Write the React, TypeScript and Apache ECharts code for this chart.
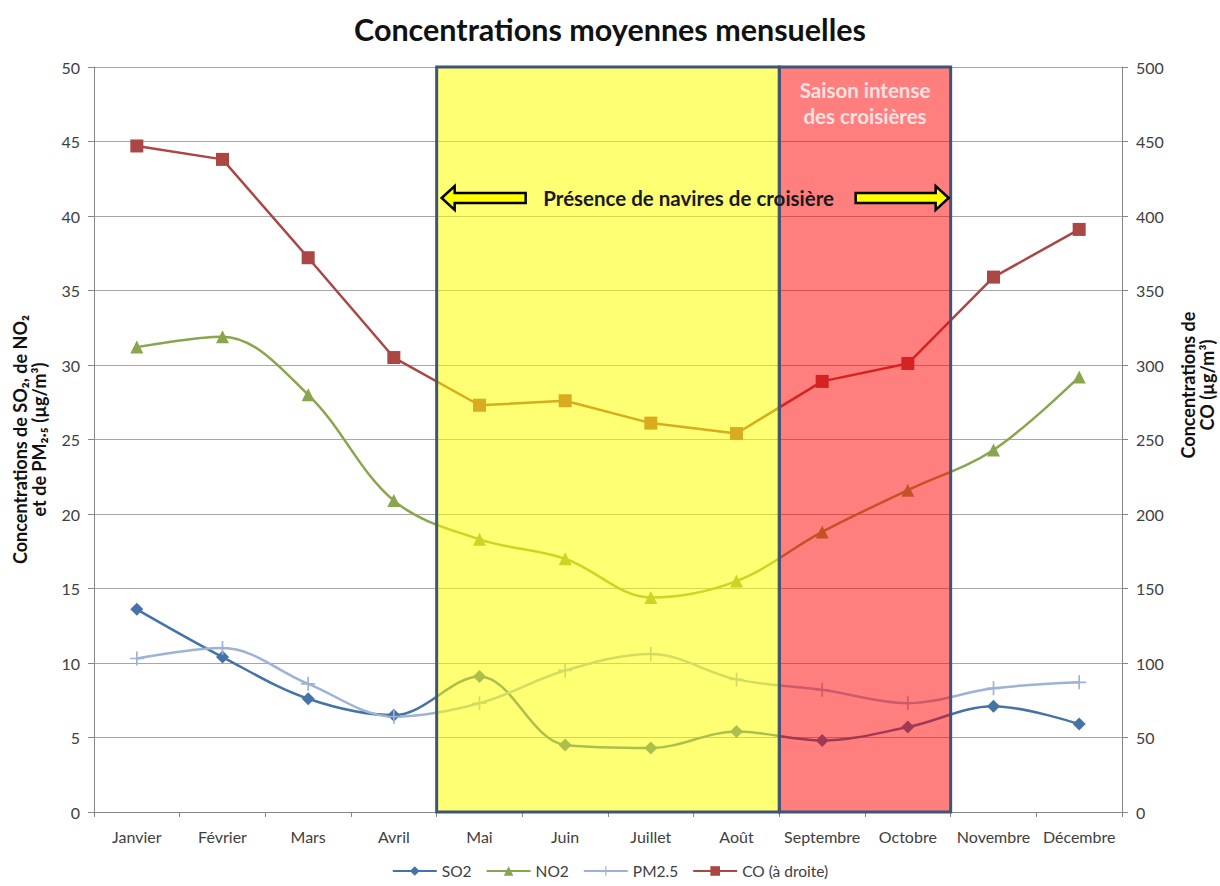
import React, { useEffect, useRef } from "react";
import * as echarts from "echarts";

const months = ["Janvier", "Février", "Mars", "Avril", "Mai", "Juin", "Juillet", "Août", "Septembre", "Octobre", "Novembre", "Décembre"];
const so2 = [13.6, 10.4, 7.6, 6.5, 9.1, 4.5, 4.3, 5.4, 4.8, 5.7, 7.1, 5.9];
const no2 = [31.2, 31.9, 28.0, 20.9, 18.3, 17.0, 14.4, 15.5, 18.8, 21.6, 24.3, 29.2];
const pm25 = [10.3, 11.0, 8.6, 6.4, 7.3, 9.5, 10.6, 8.9, 8.2, 7.3, 8.3, 8.7];
const co = [447, 438, 372, 305, 273, 276, 261, 254, 289, 301, 359, 391];

const leftAxis = { min: 0, max: 50, interval: 5 };
const rightAxis = { min: 0, max: 500, interval: 50 };

const cruiseFirst = "Mai";
const cruiseLast = "Août";
const peakFirst = "Septembre";
const peakLast = "Octobre";

const FONT = "Lato, 'Open Sans', sans-serif";
const PLUS = "path://M4.4,0h1.2v4.4h4.4v1.2h-4.4v4.4h-1.2v-4.4h-4.4v-1.2h4.4z";

export default function App() {
  const ref = useRef<HTMLDivElement>(null);
  useEffect(() => {
    const chart = echarts.init(ref.current!, undefined, { renderer: "svg" });
    const lineStyle = (c: string) => ({ color: c, width: 2.5 });
    chart.setOption({
      animation: false,
      backgroundColor: "#ffffff",
      textStyle: { fontFamily: FONT },
      title: {
        text: "Concentrations moyennes mensuelles",
        left: "center",
        top: 8,
        textStyle: { fontFamily: FONT, fontSize: 30.5, fontWeight: "bold", color: "#111" },
      },
      grid: { left: 94, right: 98, top: 67, bottom: 74, containLabel: false },
      legend: {
        bottom: 2,
        left: "center",
        itemWidth: 44,
        itemHeight: 12,
        itemGap: 14,
        textStyle: { fontFamily: FONT, fontSize: 15.5, color: "#404040" },
        data: ["SO2", "NO2", "PM2.5", "CO (à droite)"],
      },
      xAxis: {
        type: "category",
        data: months,
        boundaryGap: true,
        axisLine: { lineStyle: { color: "#868686", width: 1 } },
        axisTick: { show: true, length: 5, interval: 0, lineStyle: { color: "#868686" } },
        axisLabel: { fontFamily: FONT, fontSize: 16, color: "#404040", margin: 16, interval: 0 },
      },
      yAxis: [
        {
          type: "value",
          ...leftAxis,
          position: "left",
          axisLine: { show: true, lineStyle: { color: "#868686" } },
          axisTick: { show: true, length: 6, lineStyle: { color: "#868686" } },
          axisLabel: { fontFamily: FONT, fontSize: 16, color: "#404040", margin: 14 },
          splitLine: { show: true, lineStyle: { color: "#a6a6a6", width: 1 } },
        },
        {
          type: "value",
          ...rightAxis,
          position: "right",
          axisLine: { show: true, lineStyle: { color: "#868686" } },
          axisTick: { show: true, length: 6, lineStyle: { color: "#868686" } },
          axisLabel: { fontFamily: FONT, fontSize: 16, color: "#404040", margin: 14 },
          splitLine: { show: false },
        },
      ],
      series: [
        {
          name: "SO2", type: "line", data: so2, yAxisIndex: 0, smooth: 0.35,
          symbol: "diamond", symbolSize: 13,
          itemStyle: { color: "#4572A7" }, lineStyle: lineStyle("#4572A7"),
        },
        {
          name: "NO2", type: "line", data: no2, yAxisIndex: 0, smooth: 0.35,
          symbol: "triangle", symbolSize: 13,
          itemStyle: { color: "#89A54E" }, lineStyle: lineStyle("#89A54E"),
        },
        {
          name: "PM2.5", type: "line", data: pm25, yAxisIndex: 0, smooth: 0.35,
          symbol: PLUS, symbolSize: 14,
          itemStyle: { color: "#9DB2D6" }, lineStyle: lineStyle("#9DB2D6"),
        },
        {
          name: "CO (à droite)", type: "line", data: co, yAxisIndex: 1, smooth: false,
          symbol: "rect", symbolSize: 13,
          itemStyle: { color: "#AA4643" }, lineStyle: lineStyle("#AA4643"),
        },
      ],
    });

    const px = (c: string) => chart.convertToPixel({ xAxisIndex: 0 }, c) as number;
    const py = (v: number) => chart.convertToPixel({ yAxisIndex: 0 }, v) as number;
    const half = (px(months[1]) - px(months[0])) / 2;
    const x1 = px(cruiseFirst) - half;
    const x2 = px(cruiseLast) + half;
    const x3 = px(peakFirst) - half;
    const x4 = px(peakLast) + half;
    const yTop = py(leftAxis.max);
    const yBot = py(leftAxis.min);
    const border = "#3E5578";
    const ay = yTop + 131;

    const leftArrow = (xs: number, xe: number, yc: number) => [
      [xs, yc], [xs + 13, yc - 12], [xs + 13, yc - 5], [xe, yc - 5], [xe, yc + 5], [xs + 13, yc + 5], [xs + 13, yc + 12],
    ];
    const rightArrow = (xs: number, xe: number, yc: number) => [
      [xe, yc], [xe - 13, yc - 12], [xe - 13, yc - 5], [xs, yc - 5], [xs, yc + 5], [xe - 13, yc + 5], [xe - 13, yc + 12],
    ];

    const nameStyle = {
      fontFamily: FONT, fontSize: 18, fontWeight: "bold", fill: "#111",
      align: "center", verticalAlign: "middle", lineHeight: 19,
    };

    chart.setOption({
      graphic: [
        {
          type: "rect", z: 100, silent: true,
          shape: { x: x1, y: yTop, width: x2 - x1, height: yBot - yTop },
          style: { fill: "rgba(255,255,0,0.55)", stroke: border, lineWidth: 3 },
        },
        {
          type: "rect", z: 100, silent: true,
          shape: { x: x3, y: yTop, width: x4 - x3, height: yBot - yTop },
          style: { fill: "rgba(255,0,0,0.5)", stroke: border, lineWidth: 3 },
        },
        {
          type: "polygon", z: 110, silent: true,
          shape: { points: leftArrow(x1 + 5, x1 + 89, ay) },
          style: { fill: "#FFFF00", stroke: "#000", lineWidth: 2.5 },
        },
        {
          type: "polygon", z: 110, silent: true,
          shape: { points: rightArrow(x4 - 95, x4 - 2, ay) },
          style: { fill: "#FFFF00", stroke: "#000", lineWidth: 2.5 },
        },
        {
          type: "text", z: 110, silent: true,
          x: (x1 + x4) / 2 - 5, y: ay,
          style: {
            text: "Présence de navires de croisière",
            fontFamily: FONT, fontSize: 20.5, fontWeight: "bold", fill: "#1a1a1a",
            align: "center", verticalAlign: "middle",
          },
        },
        {
          type: "text", z: 110, silent: true,
          x: (x3 + x4) / 2, y: yTop + 36,
          style: {
            text: "Saison intense\ndes croisières",
            fontFamily: FONT, fontSize: 20.5, fontWeight: "bold", fill: "#FDE2E2",
            align: "center", verticalAlign: "middle", lineHeight: 26,
          },
        },
        {
          type: "text", silent: true, x: 29, y: (yTop + yBot) / 2, rotation: Math.PI / 2,
          style: { ...nameStyle, text: "Concentrations de SO₂, de NO₂\net de PM₂.₅ (µg/m³)" },
        },
        {
          type: "text", silent: true, x: 1197, y: 385, rotation: Math.PI / 2,
          style: { ...nameStyle, text: "Concentrations de\nCO (µg/m³)" },
        },
      ],
    });

    return () => chart.dispose();
  }, []);
  return <div ref={ref} style={{ position: "fixed", left: 0, top: 0, width: 1220, height: 886 }} />;
}
